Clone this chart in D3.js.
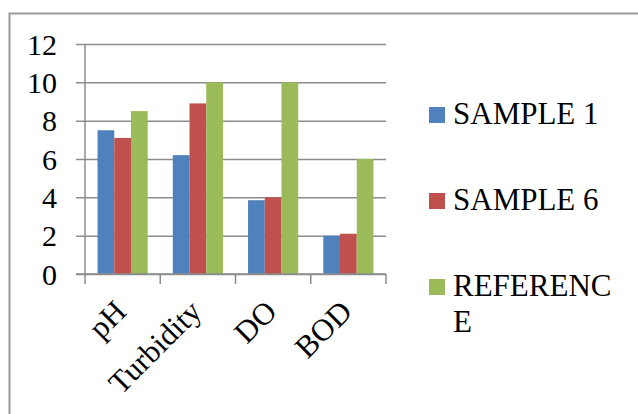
<!DOCTYPE html>
<html>
<head>
<meta charset="utf-8">
<script src="https://cdn.jsdelivr.net/npm/d3@7"></script>
<style>
  html, body { margin: 0; padding: 0; background: #fff; }
  svg { display: block; }
</style>
</head>
<body>
<svg id="chart" width="638" height="414"></svg>
<script>
// Water quality parameters per sample
const categories = ["pH", "Turbidity", "DO", "BOD"];
const seriesNames = ["SAMPLE 1", "SAMPLE 6", "REFERENCE"];
const sample1 = [7.5, 6.2, 3.85, 2.0];
const sample6 = [7.1, 8.9, 4.0, 2.1];
const reference = [8.5, 10, 10, 6];
const yTicks = [0, 2, 4, 6, 8, 10, 12];
const colors = ["#4F81BD", "#C0504D", "#9BBB59"];

const seriesValues = [sample1, sample6, reference];
const rows = categories.map((c, i) => ({
  category: c,
  values: seriesNames.map((s, j) => ({ series: s, value: seriesValues[j][i] }))
}));

const svg = d3.select("#chart");
const font = "'Liberation Serif', 'Times New Roman', serif";
const gridColor = "#8c8c8c";

// Chart frame (top and left edges)
svg.append("path")
  .attr("d", "M9.5,414 L9.5,13.5 L638,13.5")
  .attr("fill", "none")
  .attr("stroke", "#999")
  .attr("stroke-width", 2);

const plot = { left: 85, right: 386, top: 44, bottom: 274 };

const x = d3.scaleBand()
  .domain(categories)
  .range([plot.left, plot.right])
  .paddingInner(1 / 3)
  .paddingOuter(1 / 6);

const xInner = d3.scaleBand()
  .domain(seriesNames)
  .range([0, x.bandwidth()]);

const y = d3.scaleLinear()
  .domain([0, 12])
  .range([plot.bottom, plot.top]);

const color = d3.scaleOrdinal().domain(seriesNames).range(colors);

// Horizontal gridlines with tick stubs to the left of the axis
const yAxis = d3.axisLeft(y)
  .tickValues(yTicks)
  .tickSize(-(plot.right - plot.left))
  .tickPadding(0)
  .tickFormat(d3.format("d"));

const yg = svg.append("g")
  .attr("transform", `translate(${plot.left},0)`)
  .call(yAxis);
yg.select(".domain").remove();
yg.selectAll(".tick line")
  .attr("x1", -9)
  .attr("stroke", gridColor)
  .attr("stroke-width", 1.5);
yg.selectAll(".tick text")
  .attr("x", -28)
  .attr("dy", "0.34em")
  .attr("font-family", font)
  .attr("font-size", 30)
  .attr("fill", "#000");

// Bars
const groups = svg.append("g")
  .selectAll("g")
  .data(rows)
  .join("g")
  .attr("transform", d => `translate(${x(d.category)},0)`);

groups.selectAll("rect")
  .data(d => d.values)
  .join("rect")
  .attr("x", d => xInner(d.series))
  .attr("width", xInner.bandwidth())
  .attr("y", d => y(d.value))
  .attr("height", d => y(0) - y(d.value))
  .attr("fill", d => color(d.series));

// Vertical axis line
svg.append("line")
  .attr("x1", plot.left).attr("x2", plot.left)
  .attr("y1", plot.top).attr("y2", plot.bottom)
  .attr("stroke", gridColor)
  .attr("stroke-width", 1.5);

// Category axis with tick marks on band edges
const xg = svg.append("g")
  .attr("transform", `translate(0,${plot.bottom})`);
xg.append("line")
  .attr("x1", plot.left - 9).attr("x2", plot.right)
  .attr("stroke", gridColor)
  .attr("stroke-width", 1.5);
const step = x.step();
const edges = d3.range(categories.length + 1).map(i => plot.left + i * step);
xg.selectAll("line.edge")
  .data(edges)
  .join("line")
  .attr("class", "edge")
  .attr("x1", d => d).attr("x2", d => d)
  .attr("y1", 0).attr("y2", 10)
  .attr("stroke", gridColor)
  .attr("stroke-width", 1.5);

// Rotated category labels
xg.selectAll("text")
  .data(categories)
  .join("text")
  .attr("transform", d => `translate(${x(d) + x.bandwidth() / 2 - 10},${24}) rotate(-45)`)
  .attr("text-anchor", "end")
  .attr("dy", "0.7em")
  .attr("font-family", font)
  .attr("font-size", 31)
  .attr("fill", "#000")
  .text(d => d);

// Legend
const legendLabels = [["SAMPLE 1"], ["SAMPLE 6"], ["REFERENC", "E"]];
const legend = svg.append("g");
const items = legend.selectAll("g")
  .data(seriesNames)
  .join("g")
  .attr("transform", (d, i) => `translate(429,${107 + i * 86})`);
items.append("rect")
  .attr("width", 16)
  .attr("height", 16)
  .attr("fill", d => color(d));
items.append("text")
  .attr("x", 24)
  .attr("y", 17)
  .attr("font-family", font)
  .attr("font-size", 31)
  .attr("fill", "#000")
  .selectAll("tspan")
  .data((d, i) => legendLabels[i])
  .join("tspan")
  .attr("x", 24)
  .attr("dy", (d, i) => i === 0 ? 0 : 36)
  .text(d => d);
</script>
</body>
</html>
